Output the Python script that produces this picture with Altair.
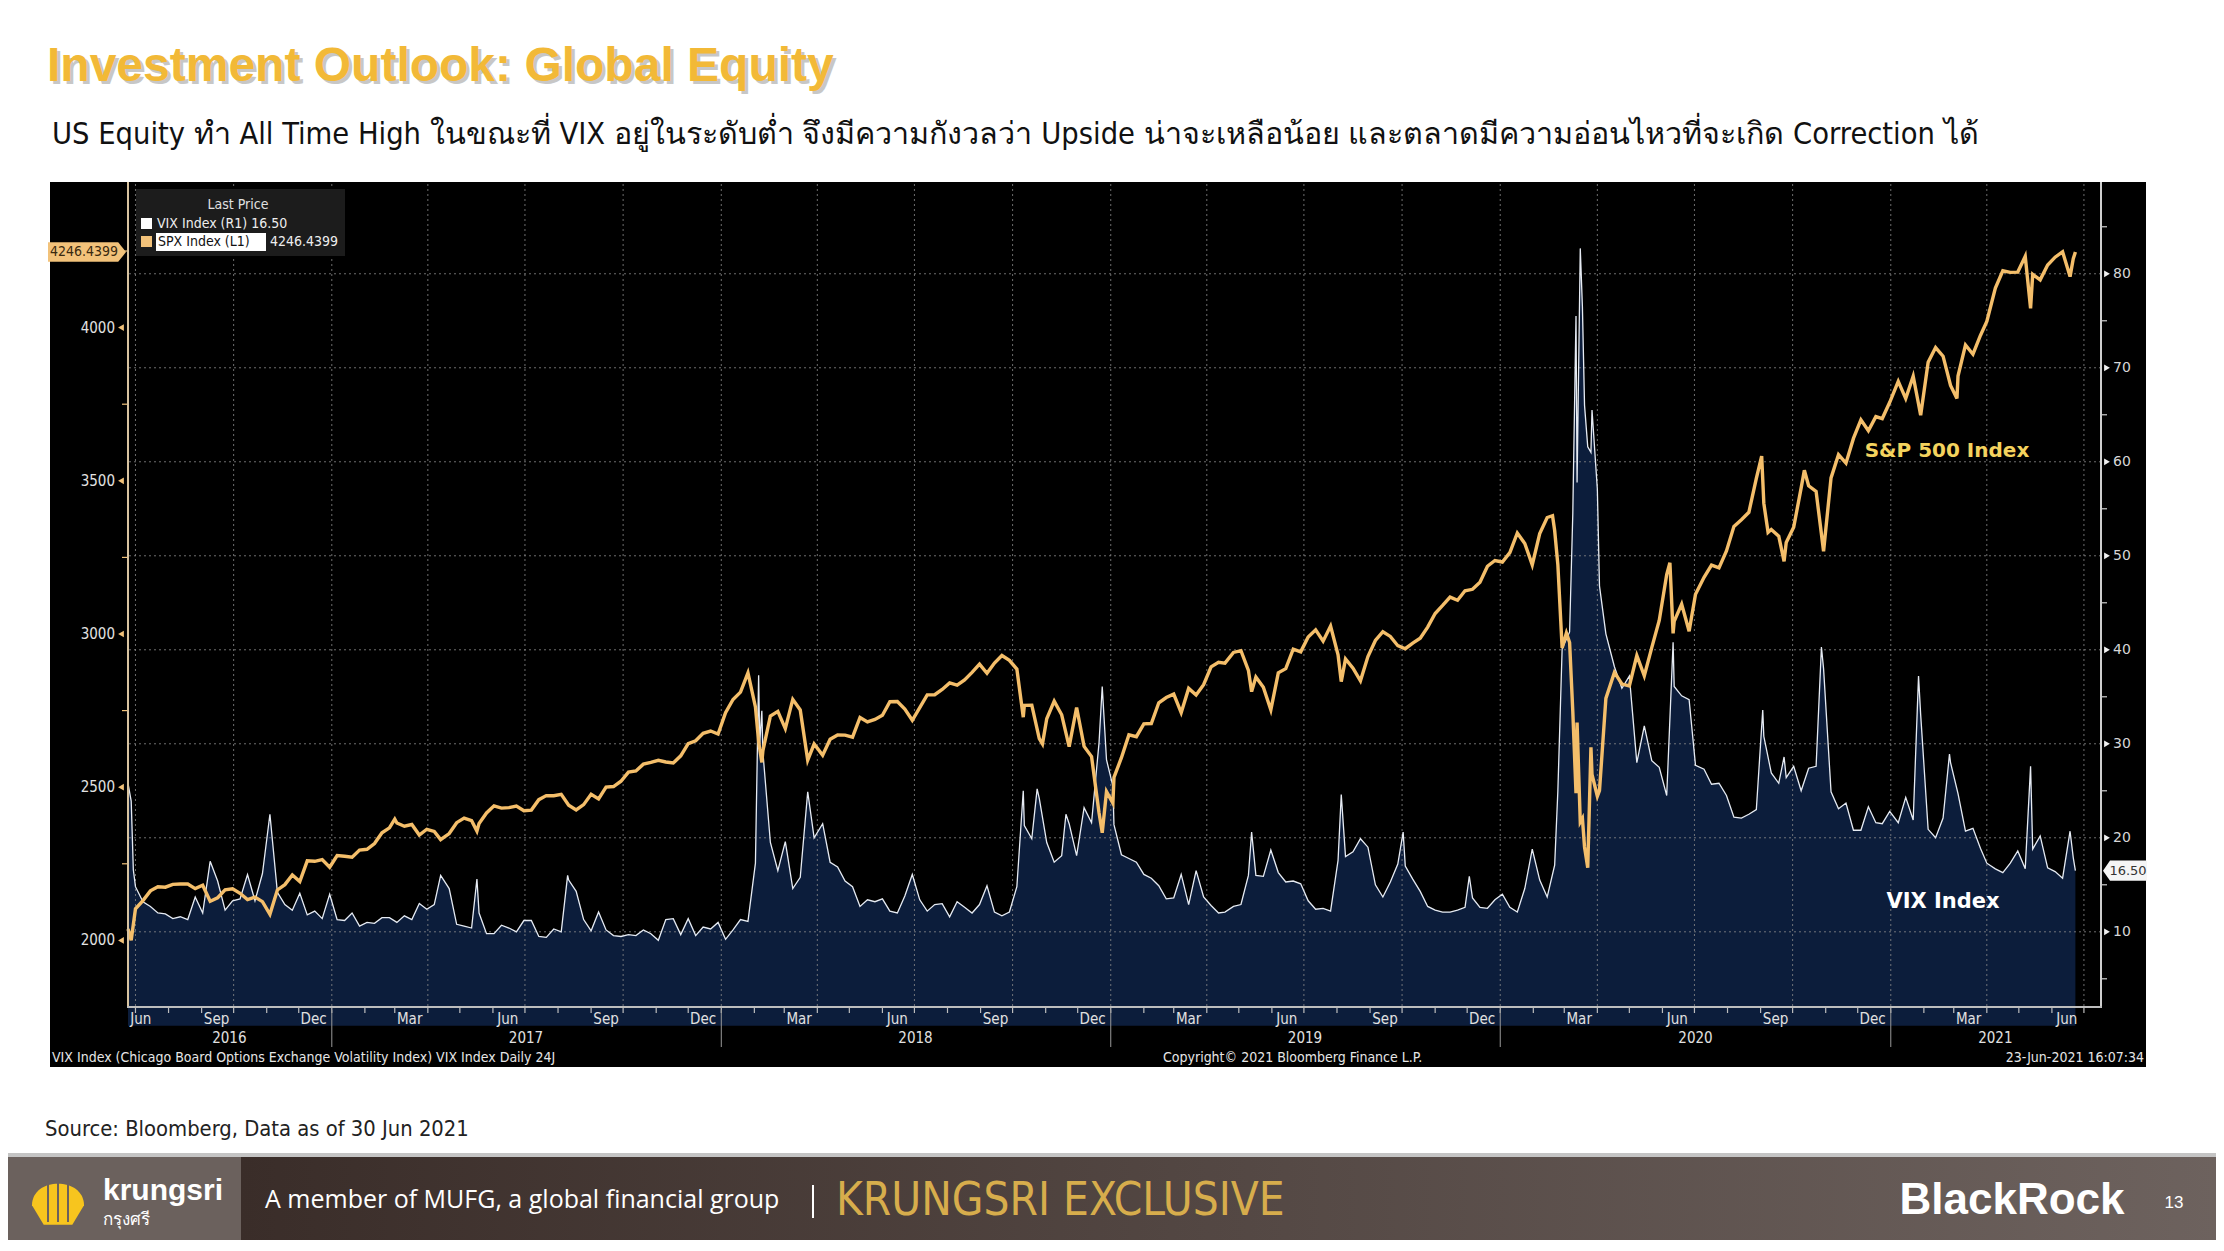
import altair as alt
import pandas as pd

# ---------------- data ----------------
spx = [
("2016-06-24",2037.4),("2016-06-27",2000.5),("2016-07-01",2103.0),("2016-07-08",2129.9),("2016-07-15",2161.7),
("2016-07-22",2175.0),("2016-07-29",2173.6),("2016-08-05",2182.9),("2016-08-12",2184.1),("2016-08-19",2183.9),
("2016-08-26",2169.0),("2016-09-02",2180.0),("2016-09-09",2127.8),("2016-09-16",2139.2),("2016-09-23",2164.7),
("2016-09-30",2168.3),("2016-10-07",2153.7),("2016-10-14",2133.0),("2016-10-21",2141.2),("2016-10-28",2126.4),
("2016-11-04",2085.2),("2016-11-11",2164.5),("2016-11-18",2181.9),("2016-11-25",2213.4),("2016-12-02",2192.0),
("2016-12-09",2259.5),("2016-12-16",2258.1),("2016-12-23",2263.8),("2016-12-30",2238.8),
("2017-01-06",2277.0),("2017-01-13",2274.6),("2017-01-20",2271.3),("2017-01-27",2294.7),("2017-02-03",2297.4),
("2017-02-10",2316.1),("2017-02-17",2351.2),("2017-02-24",2367.3),("2017-03-01",2396.0),("2017-03-03",2383.1),
("2017-03-10",2372.6),("2017-03-17",2378.3),("2017-03-24",2344.0),("2017-03-31",2362.7),("2017-04-07",2355.5),
("2017-04-13",2329.0),("2017-04-21",2348.7),("2017-04-28",2384.2),("2017-05-05",2399.3),("2017-05-12",2390.9),
("2017-05-17",2357.0),("2017-05-19",2381.7),("2017-05-26",2415.8),("2017-06-02",2439.1),("2017-06-09",2431.8),
("2017-06-16",2433.2),("2017-06-23",2438.3),("2017-06-30",2423.4),("2017-07-07",2425.2),("2017-07-14",2459.3),
("2017-07-21",2472.5),("2017-07-28",2472.1),("2017-08-04",2476.8),("2017-08-11",2441.3),("2017-08-18",2425.6),
("2017-08-25",2443.1),("2017-09-01",2476.6),("2017-09-08",2461.4),("2017-09-15",2500.2),("2017-09-22",2502.2),
("2017-09-29",2519.4),("2017-10-06",2549.3),("2017-10-13",2553.2),("2017-10-20",2575.2),("2017-10-27",2581.1),
("2017-11-03",2587.8),("2017-11-10",2582.3),("2017-11-17",2578.9),("2017-11-24",2602.4),("2017-12-01",2642.2),
("2017-12-08",2651.5),("2017-12-15",2675.8),("2017-12-22",2683.3),("2017-12-29",2673.6),
("2018-01-05",2743.2),("2018-01-12",2786.2),("2018-01-19",2810.3),("2018-01-26",2872.9),("2018-02-02",2762.1),
("2018-02-05",2648.9),("2018-02-08",2581.0),("2018-02-09",2619.6),("2018-02-16",2732.2),("2018-02-23",2747.3),
("2018-03-02",2691.3),("2018-03-09",2786.6),("2018-03-16",2752.0),("2018-03-23",2588.3),("2018-03-29",2640.9),
("2018-04-06",2604.5),("2018-04-13",2656.3),("2018-04-20",2670.1),("2018-04-27",2669.9),("2018-05-04",2663.4),
("2018-05-11",2727.7),("2018-05-18",2713.0),("2018-05-25",2721.3),("2018-06-01",2734.6),("2018-06-08",2779.0),
("2018-06-15",2779.7),("2018-06-22",2754.9),("2018-06-29",2718.4),("2018-07-06",2759.8),("2018-07-13",2801.3),
("2018-07-20",2801.8),("2018-07-27",2818.8),("2018-08-03",2840.4),("2018-08-10",2833.3),("2018-08-17",2850.1),
("2018-08-24",2874.7),("2018-08-31",2901.5),("2018-09-07",2871.7),("2018-09-14",2905.0),("2018-09-21",2929.7),
("2018-09-28",2914.0),("2018-10-05",2885.6),("2018-10-11",2728.4),("2018-10-12",2767.1),("2018-10-19",2767.8),
("2018-10-26",2658.7),("2018-10-29",2641.3),("2018-11-02",2723.1),("2018-11-09",2781.0),("2018-11-16",2736.3),
("2018-11-23",2632.6),("2018-11-30",2760.2),("2018-12-07",2633.1),("2018-12-14",2600.0),("2018-12-21",2416.6),
("2018-12-24",2351.1),("2018-12-28",2485.7),
("2019-01-03",2447.9),("2019-01-04",2531.9),("2019-01-11",2596.3),("2019-01-18",2670.7),("2019-01-25",2664.8),
("2019-02-01",2706.5),("2019-02-08",2707.9),("2019-02-15",2775.6),("2019-02-22",2792.7),("2019-03-01",2803.7),
("2019-03-08",2743.1),("2019-03-15",2822.5),("2019-03-22",2800.7),("2019-03-29",2834.4),("2019-04-05",2892.7),
("2019-04-12",2907.4),("2019-04-18",2905.0),("2019-04-26",2939.9),("2019-05-03",2945.6),("2019-05-10",2881.4),
("2019-05-13",2811.9),("2019-05-17",2859.5),("2019-05-24",2826.1),("2019-05-31",2752.1),("2019-06-07",2873.3),
("2019-06-14",2887.0),("2019-06-21",2950.5),("2019-06-28",2941.8),("2019-07-05",2990.4),("2019-07-12",3013.8),
("2019-07-19",2976.6),("2019-07-26",3025.9),("2019-08-02",2932.1),("2019-08-05",2844.7),("2019-08-09",2918.7),
("2019-08-16",2888.7),("2019-08-23",2847.1),("2019-08-30",2926.5),("2019-09-06",2978.7),("2019-09-13",3007.4),
("2019-09-20",2992.1),("2019-09-27",2961.8),("2019-10-04",2952.0),("2019-10-11",2970.3),("2019-10-18",2986.2),
("2019-10-25",3022.6),("2019-11-01",3066.9),("2019-11-08",3093.1),("2019-11-15",3120.5),("2019-11-22",3110.3),
("2019-11-29",3141.0),("2019-12-06",3145.9),("2019-12-13",3168.8),("2019-12-20",3221.2),("2019-12-27",3240.0),
("2020-01-03",3234.9),("2020-01-10",3265.4),("2020-01-17",3329.6),("2020-01-24",3295.5),("2020-01-31",3225.5),
("2020-02-07",3327.7),("2020-02-14",3380.2),("2020-02-19",3386.2),("2020-02-21",3337.8),("2020-02-24",3225.9),
("2020-02-28",2954.2),("2020-03-03",3003.4),("2020-03-06",2972.4),("2020-03-09",2746.6),("2020-03-12",2480.6),
("2020-03-13",2711.0),("2020-03-16",2386.1),("2020-03-18",2398.1),("2020-03-20",2304.9),("2020-03-23",2237.4),
("2020-03-26",2630.1),("2020-03-27",2541.5),("2020-04-01",2470.5),("2020-04-03",2488.7),("2020-04-09",2789.8),
("2020-04-17",2874.6),("2020-04-24",2836.7),("2020-05-01",2830.7),("2020-05-08",2929.8),("2020-05-15",2863.7),
("2020-05-22",2955.5),("2020-05-29",3044.3),("2020-06-05",3193.9),("2020-06-08",3232.4),("2020-06-11",3002.1),
("2020-06-12",3041.3),("2020-06-19",3097.7),("2020-06-26",3009.1),("2020-07-02",3130.0),("2020-07-10",3185.0),
("2020-07-17",3224.7),("2020-07-24",3215.6),("2020-07-31",3271.1),("2020-08-07",3351.3),("2020-08-14",3372.9),
("2020-08-21",3397.2),("2020-08-28",3508.0),("2020-09-02",3580.8),("2020-09-04",3427.0),("2020-09-08",3331.8),
("2020-09-11",3341.0),("2020-09-18",3319.5),("2020-09-23",3236.9),("2020-09-25",3298.5),("2020-10-02",3348.4),
("2020-10-09",3477.1),("2020-10-12",3534.2),("2020-10-16",3483.8),("2020-10-23",3465.4),("2020-10-30",3270.0),
("2020-11-06",3509.4),("2020-11-13",3585.2),("2020-11-20",3557.5),("2020-11-27",3638.4),("2020-12-04",3699.1),
("2020-12-11",3663.5),("2020-12-18",3709.4),("2020-12-24",3703.1),("2020-12-31",3756.1),
("2021-01-08",3824.7),("2021-01-15",3768.3),("2021-01-22",3841.5),("2021-01-27",3750.8),("2021-01-29",3714.2),
("2021-02-05",3886.8),("2021-02-12",3934.8),("2021-02-19",3906.7),("2021-02-26",3811.2),("2021-03-04",3768.5),
("2021-03-05",3841.9),("2021-03-12",3943.3),("2021-03-19",3913.1),("2021-03-26",3974.5),("2021-04-01",4019.9),
("2021-04-09",4128.8),("2021-04-16",4185.5),("2021-04-23",4180.2),("2021-04-30",4181.2),("2021-05-07",4232.6),
("2021-05-12",4063.0),("2021-05-14",4173.9),("2021-05-21",4155.9),("2021-05-28",4204.1),("2021-06-04",4229.9),
("2021-06-11",4247.4),("2021-06-18",4166.5),("2021-06-21",4224.8),("2021-06-23",4246.44),
]

vix = [
("2016-06-24",25.8),("2016-06-27",23.9),("2016-06-29",16.6),("2016-07-01",14.8),("2016-07-08",13.2),
("2016-07-15",12.7),("2016-07-22",12.0),("2016-07-29",11.9),("2016-08-05",11.4),("2016-08-12",11.6),
("2016-08-19",11.3),("2016-08-26",13.7),("2016-09-02",12.0),("2016-09-09",17.5),("2016-09-16",15.4),
("2016-09-23",12.3),("2016-09-30",13.3),("2016-10-07",13.5),("2016-10-14",16.1),("2016-10-21",13.3),
("2016-10-28",16.2),("2016-11-04",22.5),("2016-11-11",14.2),("2016-11-18",12.9),("2016-11-25",12.3),
("2016-12-02",14.1),("2016-12-09",11.8),("2016-12-16",12.2),("2016-12-23",11.4),("2016-12-30",14.0),
("2017-01-06",11.3),("2017-01-13",11.2),("2017-01-20",12.0),("2017-01-27",10.6),("2017-02-03",11.0),
("2017-02-10",10.9),("2017-02-17",11.5),("2017-02-24",11.5),("2017-03-03",11.0),("2017-03-10",11.7),
("2017-03-17",11.3),("2017-03-24",13.0),("2017-03-31",12.4),("2017-04-07",12.9),("2017-04-13",16.0),
("2017-04-21",14.6),("2017-04-28",10.8),("2017-05-05",10.6),("2017-05-12",10.4),("2017-05-17",15.6),
("2017-05-19",12.0),("2017-05-26",9.8),("2017-06-02",9.8),("2017-06-09",10.7),("2017-06-16",10.4),
("2017-06-23",10.0),("2017-06-30",11.2),("2017-07-07",11.2),("2017-07-14",9.5),("2017-07-21",9.4),
("2017-07-28",10.3),("2017-08-04",10.0),("2017-08-10",16.0),("2017-08-11",15.5),("2017-08-18",14.3),
("2017-08-25",11.3),("2017-09-01",10.1),("2017-09-08",12.1),("2017-09-15",10.2),("2017-09-22",9.6),
("2017-09-29",9.5),("2017-10-06",9.7),("2017-10-13",9.6),("2017-10-20",10.2),("2017-10-27",9.8),
("2017-11-03",9.1),("2017-11-10",11.3),("2017-11-17",11.4),("2017-11-24",9.7),("2017-12-01",11.4),
("2017-12-08",9.6),("2017-12-15",10.5),("2017-12-22",10.3),("2017-12-29",11.0),
("2018-01-05",9.2),("2018-01-12",10.2),("2018-01-19",11.3),("2018-01-26",11.1),("2018-02-02",17.3),
("2018-02-05",37.3),("2018-02-06",30.0),("2018-02-08",33.5),("2018-02-09",29.1),("2018-02-16",19.5),
("2018-02-23",16.5),("2018-03-02",19.6),("2018-03-09",14.6),("2018-03-16",15.8),("2018-03-23",24.9),
("2018-03-29",20.0),("2018-04-06",21.5),("2018-04-13",17.4),("2018-04-20",16.9),("2018-04-27",15.4),
("2018-05-04",14.8),("2018-05-11",12.7),("2018-05-18",13.4),("2018-05-25",13.2),("2018-06-01",13.5),
("2018-06-08",12.2),("2018-06-15",12.0),("2018-06-22",13.8),("2018-06-29",16.1),("2018-07-06",13.4),
("2018-07-13",12.2),("2018-07-20",12.9),("2018-07-27",13.0),("2018-08-03",11.6),("2018-08-10",13.2),
("2018-08-17",12.6),("2018-08-24",12.0),("2018-08-31",12.9),("2018-09-07",14.9),("2018-09-14",12.1),
("2018-09-21",11.7),("2018-09-28",12.1),("2018-10-05",14.8),("2018-10-11",25.0),("2018-10-12",21.3),
("2018-10-19",19.9),("2018-10-24",25.2),("2018-10-26",24.2),("2018-11-02",19.5),("2018-11-09",17.4),
("2018-11-16",18.1),("2018-11-20",22.5),("2018-11-23",21.5),("2018-11-30",18.1),("2018-12-07",23.2),
("2018-12-14",21.6),("2018-12-21",30.1),("2018-12-24",36.1),("2018-12-28",28.3),
("2019-01-03",25.5),("2019-01-04",21.4),("2019-01-11",18.2),("2019-01-18",17.8),("2019-01-25",17.4),
("2019-02-01",16.1),("2019-02-08",15.7),("2019-02-15",14.9),("2019-02-22",13.5),("2019-03-01",13.6),
("2019-03-08",16.1),("2019-03-15",12.9),("2019-03-22",16.5),("2019-03-29",13.7),("2019-04-05",12.8),
("2019-04-12",12.0),("2019-04-18",12.1),("2019-04-26",12.7),("2019-05-03",12.9),("2019-05-10",16.0),
("2019-05-13",20.6),("2019-05-17",16.0),("2019-05-24",15.9),("2019-05-31",18.7),("2019-06-07",16.3),
("2019-06-14",15.3),("2019-06-21",15.4),("2019-06-28",15.1),("2019-07-05",13.3),("2019-07-12",12.4),
("2019-07-19",12.5),("2019-07-26",12.2),("2019-08-02",17.6),("2019-08-05",24.6),("2019-08-09",18.0),
("2019-08-16",18.5),("2019-08-23",19.9),("2019-08-30",19.0),("2019-09-06",15.0),("2019-09-13",13.7),
("2019-09-20",15.3),("2019-09-27",17.2),("2019-10-02",20.6),("2019-10-04",17.0),("2019-10-11",15.6),
("2019-10-18",14.3),("2019-10-25",12.7),("2019-11-01",12.3),("2019-11-08",12.1),("2019-11-15",12.1),
("2019-11-22",12.3),("2019-11-29",12.6),("2019-12-03",15.9),("2019-12-06",13.6),("2019-12-13",12.6),
("2019-12-20",12.5),("2019-12-27",13.4),
("2020-01-03",14.0),("2020-01-10",12.6),("2020-01-17",12.1),("2020-01-24",14.6),("2020-01-31",18.8),
("2020-02-07",15.5),("2020-02-14",13.7),("2020-02-21",17.1),("2020-02-24",25.0),("2020-02-28",40.1),
("2020-03-06",41.9),("2020-03-09",54.5),("2020-03-12",75.5),("2020-03-13",57.8),("2020-03-16",82.7),
("2020-03-18",76.5),("2020-03-20",66.0),("2020-03-23",61.6),("2020-03-26",61.0),("2020-03-27",65.5),
("2020-04-01",57.1),("2020-04-03",46.8),("2020-04-09",41.7),("2020-04-17",38.2),("2020-04-24",35.9),
("2020-05-01",37.2),("2020-05-08",28.0),("2020-05-15",31.9),("2020-05-22",28.2),("2020-05-29",27.5),
("2020-06-05",24.5),("2020-06-11",40.8),("2020-06-12",36.1),("2020-06-19",35.1),("2020-06-26",34.7),
("2020-07-02",27.7),("2020-07-10",27.3),("2020-07-17",25.7),("2020-07-24",25.8),("2020-07-31",24.5),
("2020-08-07",22.2),("2020-08-14",22.1),("2020-08-21",22.5),("2020-08-28",23.0),("2020-09-03",33.6),
("2020-09-04",30.8),("2020-09-11",26.9),("2020-09-18",25.8),("2020-09-23",28.6),("2020-09-25",26.4),
("2020-10-02",27.6),("2020-10-09",25.0),("2020-10-16",27.4),("2020-10-23",27.6),("2020-10-28",40.3),
("2020-10-30",38.0),("2020-11-06",24.9),("2020-11-13",23.1),("2020-11-20",23.7),("2020-11-27",20.8),
("2020-12-04",20.8),("2020-12-11",23.3),("2020-12-18",21.6),("2020-12-24",21.5),("2020-12-31",22.8),
("2021-01-08",21.6),("2021-01-15",24.3),("2021-01-22",21.9),("2021-01-27",37.2),("2021-01-29",33.1),
("2021-02-05",20.9),("2021-02-12",20.0),("2021-02-19",22.1),("2021-02-25",28.9),("2021-02-26",28.0),
("2021-03-05",24.7),("2021-03-12",20.7),("2021-03-19",21.0),("2021-03-26",18.9),("2021-04-01",17.3),
("2021-04-09",16.7),("2021-04-16",16.3),("2021-04-23",17.3),("2021-04-30",18.6),("2021-05-07",16.7),
("2021-05-12",27.6),("2021-05-14",18.8),("2021-05-21",20.2),("2021-05-28",16.8),("2021-06-04",16.4),
("2021-06-11",15.7),("2021-06-18",20.7),("2021-06-21",17.9),("2021-06-23",16.5),
]

left_ticks = [2000, 2500, 3000, 3500, 4000]
left_minor = [2250, 2750, 3250, 3750, 4250]
right_ticks = [10, 20, 30, 40, 50, 60, 70, 80]
right_minor = [5, 15, 25, 35, 45, 55, 65, 75, 85]
quarter_labels = [
("2016-07-06","Jun"),("2016-09-15","Sep"),("2016-12-15","Dec"),("2017-03-15","Mar"),("2017-06-15","Jun"),
("2017-09-15","Sep"),("2017-12-15","Dec"),("2018-03-15","Mar"),("2018-06-15","Jun"),("2018-09-15","Sep"),
("2018-12-15","Dec"),("2019-03-15","Mar"),("2019-06-15","Jun"),("2019-09-15","Sep"),("2019-12-15","Dec"),
("2020-03-15","Mar"),("2020-06-15","Jun"),("2020-09-15","Sep"),("2020-12-15","Dec"),("2021-03-15","Mar"),
("2021-06-15","Jun"),
]
years = ["2016", "2017", "2018", "2019", "2020", "2021"]
last_spx = "4246.4399"
last_vix = "16.50"

# ---------------- layout ----------------
PX0, PY0 = 128, 184          # page position of plot origin
W, H = 1973, 823
X_START, X_END = "2016-06-24", "2021-07-17"
SPX_DOM = [1782.6, 4468.7]
VIX_DOM = [2.0, 89.55]

NARROW = "Liberation Sans Narrow, Arial Narrow, DejaVu Sans Condensed, Liberation Sans, sans-serif"
SANS = "Liberation Sans, Arial, sans-serif"
NAVY = "#0c1d3b"
ORANGE = "#F4BE6A"
TAN = "#F2C27A"

spx_df = pd.DataFrame(spx, columns=["date", "v"])
vix_df = pd.DataFrame(vix, columns=["date", "v"])

def dt(s):
    t = pd.Timestamp(s)
    return alt.DateTime(year=t.year, month=t.month, date=t.day, utc=True)

xsc = alt.Scale(type="utc", domain=[dt(X_START), dt(X_END)])
ysp = alt.Scale(domain=SPX_DOM, nice=False, zero=False)
yvx = alt.Scale(domain=VIX_DOM, nice=False, zero=False)
X = lambda: alt.X("date:T", scale=xsc, axis=None)
YS = lambda f="v": alt.Y(f"{f}:Q", scale=ysp, axis=None)
YV = lambda f="v": alt.Y(f"{f}:Q", scale=yvx, axis=None)

one = alt.Data(values=[{"a": 1}])

def px(x): return x - PX0
def py(y): return y - PY0

def rect(x1, y1, x2, y2, fill, **kw):
    return alt.Chart(one).mark_rect(fill=fill, **kw).encode(
        x=alt.value(px(x1)), x2=alt.value(px(x2)), y=alt.value(py(y1)), y2=alt.value(py(y2)))

def txt(s, x, y, size, color, align="left", weight="normal", font=SANS, baseline="middle", **kw):
    return alt.Chart(one).mark_text(text=s, align=align, baseline=baseline, fontSize=size, color=color,
                                    fontWeight=weight, font=font, **kw).encode(
        x=alt.value(px(x)), y=alt.value(py(y)))

layers = []
# black bloomberg panel
layers.append(rect(50, 182, 2146, 1067, "#000000"))

# VIX area
layers.append(alt.Chart(vix_df).mark_area(color=NAVY, opacity=1).encode(x=X(), y=YV(), y2=alt.value(H)))

# grid
grid_h = pd.DataFrame({"v": right_ticks})
layers.append(alt.Chart(grid_h).mark_rule(color="#8a8a8a", strokeDash=[2, 3], strokeWidth=1, opacity=0.8)
              .encode(y=YV()))
qgrid = pd.DataFrame({"date": [d.strftime("%Y-%m-%d") for d in pd.date_range("2016-07-01", "2021-07-01", freq="QS")]})
layers.append(alt.Chart(qgrid).mark_rule(color="#8a8a8a", strokeDash=[2, 3], strokeWidth=1, opacity=0.8)
              .encode(x=X()))

# series lines
layers.append(alt.Chart(vix_df).mark_line(color="#e6ebf3", strokeWidth=1.3).encode(x=X(), y=YV()))
layers.append(alt.Chart(spx_df).mark_line(color=ORANGE, strokeWidth=3.4).encode(x=X(), y=YS()))

# axes lines
layers.append(rect(127, 182, 129, 1007, "#d8c3a0"))
layers.append(rect(2100, 182, 2102, 1008, "#cfcfcf"))
layers.append(rect(127, 1006, 2102, 1008, "#bdbdbd"))

# left axis
lt = pd.DataFrame({"v": left_ticks, "lab": [str(v) for v in left_ticks]})
lm = pd.DataFrame({"v": left_minor})
layers.append(alt.Chart(lt).mark_point(shape="triangle-left", filled=True, size=45, color=TAN, opacity=1)
              .encode(x=alt.value(px(121)), y=YS()))
layers.append(alt.Chart(lm).mark_rule(color=TAN, strokeWidth=1.2)
              .encode(x=alt.value(px(122)), x2=alt.value(px(127)), y=YS()))
layers.append(alt.Chart(lt).mark_text(align="right", baseline="middle", fontSize=15, color="#e2e2e2", font=NARROW)
              .encode(x=alt.value(px(115)), y=YS(), text="lab:N"))

# right axis
rt = pd.DataFrame({"v": right_ticks, "lab": [str(v) for v in right_ticks]})
rm = pd.DataFrame({"v": right_minor})
layers.append(alt.Chart(rt).mark_point(shape="triangle-right", filled=True, size=45, color="#f0f0f0", opacity=1)
              .encode(x=alt.value(px(2107)), y=YV()))
layers.append(alt.Chart(rm).mark_rule(color="#d0d0d0", strokeWidth=1.2)
              .encode(x=alt.value(px(2102)), x2=alt.value(px(2107)), y=YV()))
layers.append(alt.Chart(rt).mark_text(align="left", baseline="middle", fontSize=14, color="#d6d6d6", font="DejaVu Sans")
              .encode(x=alt.value(px(2113)), y=YV(), text="lab:N"))

# bottom axis: month ticks, quarter labels, years
mt = pd.DataFrame({"date": [d.strftime("%Y-%m-%d") for d in pd.date_range("2016-07-01", "2021-07-01", freq="MS")]})
layers.append(alt.Chart(mt).mark_rule(color="#bdbdbd", strokeWidth=1.2)
              .encode(x=X(), y=alt.value(H), y2=alt.value(H + 6)))
ql = pd.DataFrame(quarter_labels, columns=["date", "lab"])
layers.append(alt.Chart(ql).mark_text(align="center", baseline="middle", fontSize=15, color="#e0e0e0", font=NARROW)
              .encode(x=X(), y=alt.value(py(1019)), text="lab:N"))
x0, x1 = pd.Timestamp(X_START), pd.Timestamp(X_END)
ymid = []
for y in years:
    a = max(x0, pd.Timestamp(f"{y}-01-01")); b = min(x1, pd.Timestamp(f"{int(y)+1}-01-01"))
    ymid.append((a + (b - a) / 2).strftime("%Y-%m-%d"))
yl = pd.DataFrame({"date": ymid, "lab": years})
layers.append(alt.Chart(yl).mark_text(align="center", baseline="middle", fontSize=15, color="#e0e0e0", font=NARROW)
              .encode(x=X(), y=alt.value(py(1038)), text="lab:N"))
ysep = pd.DataFrame({"date": [f"{y}-01-01" for y in years[1:]]})
layers.append(alt.Chart(ysep).mark_rule(color="#9a9a9a", strokeWidth=1)
              .encode(x=X(), y=alt.value(py(1010)), y2=alt.value(py(1047))))

# panel footer texts
layers.append(txt("VIX Index (Chicago Board Options Exchange Volatility Index) VIX Index  Daily 24J", 52, 1058, 14, "#e6e6e6", font=NARROW))
layers.append(txt("Copyright\u00a9 2021 Bloomberg Finance L.P.", 1163, 1058, 14, "#e6e6e6", font=NARROW))
layers.append(txt("23-Jun-2021 16:07:34", 2144, 1058, 14, "#e6e6e6", align="right", font=NARROW))

# legend box
layers.append(rect(136, 189, 345, 256, "#1c1c1c"))
layers.append(txt("Last Price", 238, 205, 14, "#e0e0e0", align="center", font=NARROW))
layers.append(rect(141, 218, 152, 229, "#ffffff"))
layers.append(txt("VIX Index  (R1)  " + last_vix, 157, 224, 14, "#eeeeee", font=NARROW))
layers.append(rect(141, 236, 152, 247, TAN))
layers.append(rect(156, 233, 266, 251, "#ffffff"))
layers.append(txt("SPX Index  (L1)", 158, 242, 14, "#111111", font=NARROW))
layers.append(txt(last_spx, 270, 242, 14, "#eeeeee", font=NARROW))

# last-value tags
spx_last = pd.DataFrame({"v": [spx[-1][1]], "lab": [last_spx]})
vix_last = pd.DataFrame({"v": [vix[-1][1]], "lab": [last_vix]})
layers.append(alt.Chart(spx_last).mark_point(shape="M-1,-0.25L0.8,-0.25L1,0L0.8,0.25L-1,0.25Z", size=78 * 78,
                                             filled=True, color=TAN, opacity=1)
              .encode(x=alt.value(px(87)), y=YS()))
layers.append(alt.Chart(spx_last).mark_text(align="center", baseline="middle", fontSize=14, color="#3a2a10", font=NARROW)
              .encode(x=alt.value(px(84)), y=YS(), text="lab:N"))
layers.append(alt.Chart(vix_last).mark_point(shape="M-1,0L-0.68,-0.46L1,-0.46L1,0.46L-0.68,0.46Z", size=44 * 44,
                                             filled=True, color="#f5f5f5", opacity=1)
              .encode(x=alt.value(px(2125)), y=YV()))
layers.append(alt.Chart(vix_last).mark_text(align="center", baseline="middle", fontSize=13, color="#333333", font="DejaVu Sans")
              .encode(x=alt.value(px(2128)), y=YV(), text="lab:N"))

# annotations
layers.append(txt("S&P 500 Index", 1947, 451, 20, "#F4D35E", align="center", weight="bold", font="DejaVu Sans"))
layers.append(txt("VIX Index", 1943, 902, 21, "#ffffff", align="center", weight="bold", font="DejaVu Sans"))

# slide title / subtitle / source
title = "Investment Outlook: Global Equity"
layers.append(txt(title, 50, 70, 48, "#9a9a9a", weight="bold", opacity=0.55))
layers.append(txt(title, 47, 67, 48, "#F2B937", weight="bold"))
layers.append(txt("US Equity ทำ All Time High ในขณะที่ VIX อยู่ในระดับต่ำ จึงมีความกังวลว่า Upside น่าจะเหลือน้อย และตลาดมีความอ่อนไหวที่จะเกิด Correction ได้",
                  52, 135, 30.5, "#111111", font=NARROW))
layers.append(txt("Source: Bloomberg, Data as of 30 Jun 2021", 45, 1129, 21.8, "#222222", font=NARROW))

# footer bar
layers.append(rect(8, 1153, 2216, 1157, "#c4c4c4"))
grad = alt.Gradient(gradient="linear", x1=0, x2=1, y1=0, y2=0,
                    stops=[alt.GradientStop(color="#3a2d29", offset=0), alt.GradientStop(color="#6d625e", offset=1)])
layers.append(rect(241, 1157, 2216, 1243, grad))
layers.append(rect(8, 1157, 241, 1243, "#6b615d"))
# krungsri emblem (simplified)
layers.append(alt.Chart(one).mark_point(shape="M-1,0.2C-1,-0.9 1,-0.9 1,0.2L0.55,0.95L-0.55,0.95Z", size=52 * 52,
                                        filled=True, color="#F7C51E", opacity=1)
              .encode(x=alt.value(px(58)), y=alt.value(py(1200))))
for xx in (48, 58, 68):
    layers.append(rect(xx - 1, 1180, xx + 1, 1222, "#6b615d"))
layers.append(txt("krungsri", 103, 1191, 30, "#ffffff", weight="bold", font=SANS))
layers.append(txt("กรุงศรี", 103, 1220, 17, "#ffffff", font=SANS))
layers.append(txt("A member of MUFG, a global financial group", 265, 1200, 25, "#ffffff", font="Open Sans"))
layers.append(rect(812, 1185, 814, 1218, "#ffffff"))
layers.append(txt("KRUNGSRI EXCLUSIVE", 836, 1201, 45.5, "#D7AD4C", font=NARROW))
layers.append(txt("BlackRock", 2012, 1201, 44, "#ffffff", align="center", weight="bold", font=SANS))
layers.append(txt("13", 2174, 1203, 17, "#ffffff", align="center", font=SANS))

chart = alt.layer(*layers).resolve_scale(y="independent").properties(
    width=W, height=H,
    padding={"left": PX0 - 8, "top": PY0 - 8, "right": 2208 - (PX0 - 8) - W, "bottom": 1232 - (PY0 - 8) - H},
    autosize=alt.AutoSizeParams(type="none"),
    background="#ffffff",
).configure_view(stroke=None)

chart.save("out.html", embed_options={"renderer": "svg", "actions": False})
